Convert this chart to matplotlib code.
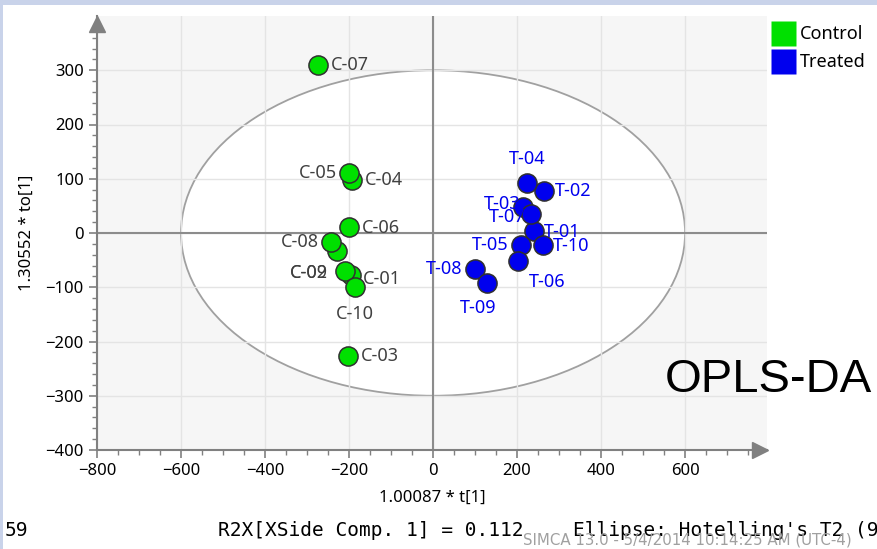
import matplotlib
matplotlib.use("Agg")
import matplotlib.pyplot as plt
from matplotlib.patches import Ellipse, Rectangle
from matplotlib.lines import Line2D

# ---- data ----
control_names = ["C-01", "C-02", "C-03", "C-04", "C-05", "C-06", "C-07", "C-08", "C-09", "C-10"]
control_t = [-196, -229, -202, -193, -200, -200, -274, -243, -210, -186]
control_to = [-78, -33, -226, 98, 111, 11, 309, -17, -70, -100]

treated_names = ["T-01", "T-02", "T-03", "T-04", "T-05", "T-06", "T-07", "T-08", "T-09", "T-10"]
treated_t = [240, 264, 214, 224, 209, 202, 233, 100, 128, 262]
treated_to = [4, 78, 48, 93, -22, -52, 35, -67, -93, -22]

legend_labels = ["Control", "Treated"]
x_label = "1.00087 * t[1]"
y_label = "1.30552 * to[1]"

# label offsets (points) and alignment, styling only
c_off = {"C-01": (9, -3, "left"), "C-02": (-6.5, -16, "right"), "C-03": (9, 0, "left"),
         "C-04": (9, 0, "left"), "C-05": (-9, 0, "right"), "C-06": (9, -1, "left"),
         "C-07": (9, 0, "left"), "C-08": (-9, 0, "right"), "C-09": (-12, -1.5, "right"),
         "C-10": (0, -19, "center")}
t_off = {"T-01": (7, -1, "left"), "T-02": (8, 0, "left"), "T-03": (-2, 2, "right"),
         "T-04": (0, 17, "center"), "T-05": (-9, 0, "right"), "T-06": (8, -15, "left"),
         "T-07": (-4, -2, "right"), "T-08": (-9, 0, "right"), "T-09": (-6, -18, "center"),
         "T-10": (7, -1, "left")}

GREEN = "#00e000"
BLUE = "#0000ee"

fig = plt.figure(figsize=(8.78, 5.49), dpi=100)
fig.patch.set_facecolor("white")
fig.patches.append(Rectangle((0, 1 - 5 / 549), 1, 5 / 549, transform=fig.transFigure,
                             facecolor="#c9d3ea", edgecolor="none", zorder=0))
fig.patches.append(Rectangle((0, 0), 3 / 878, 1, transform=fig.transFigure,
                             facecolor="#c9d3ea", edgecolor="none", zorder=0))

ax = fig.add_axes([97 / 878, 1 - 450 / 549, (767 - 97) / 878, (450 - 16) / 549])
ax.set_facecolor("#f6f6f6")
ax.set_xlim(-800, 795)
ax.set_ylim(-400, 400)

ax.set_xticks(range(-800, 601, 200))
ax.set_xticks(range(-800, 751, 50), minor=True)
ax.set_yticks(range(-400, 301, 100))
ax.set_yticks(range(-400, 381, 20), minor=True)
ax.grid(True, which="major", color="#e4e4e4", lw=1, zorder=0)

for s in ["top", "right"]:
    ax.spines[s].set_visible(False)
for s in ["left", "bottom"]:
    ax.spines[s].set_color("#808080")
    ax.spines[s].set_linewidth(1.5)
ax.tick_params(which="both", colors="#808080", labelcolor="black")
ax.tick_params(which="major", length=6, width=1.2)
ax.tick_params(which="minor", length=3.5, width=1)
ax.tick_params(axis="y", labelsize=12, labelfontfamily="Noto Sans")
ax.tick_params(axis="x", labelsize=12, labelfontfamily="Noto Sans")

# arrows at axis ends
ax.plot([0], [1.0 - 8 / 434], marker="^", markersize=11, color="#808080", transform=ax.transAxes,
        clip_on=False, zorder=5)
ax.plot([1.0 - 7 / 670], [0], marker=">", markersize=11, color="#808080", transform=ax.transAxes,
        clip_on=False, zorder=5)

ell = Ellipse((0, 0), 1200, 600, facecolor="white", edgecolor="#a0a0a0", lw=1.3, zorder=1)
ax.add_patch(ell)
ax.axhline(0, color="#8c8c8c", lw=1.5, zorder=2)
ax.axvline(0, color="#8c8c8c", lw=1.5, zorder=2)

ax.scatter(control_t, control_to, s=190, c=GREEN, edgecolors="#303030", linewidths=1.1, zorder=4)
ax.scatter(treated_t, treated_to, s=190, c=BLUE, edgecolors="#303030", linewidths=1.1, zorder=4)

for n, x, y in zip(control_names, control_t, control_to):
    dx, dy, ha = c_off[n]
    ax.annotate(n, (x, y), xytext=(dx, dy), textcoords="offset points", ha=ha, va="center",
                fontsize=13, color="#404040", fontfamily="Noto Sans", zorder=6)
for n, x, y in zip(treated_names, treated_t, treated_to):
    dx, dy, ha = t_off[n]
    ax.annotate(n, (x, y), xytext=(dx, dy), textcoords="offset points", ha=ha, va="center",
                fontsize=13, color=BLUE, fontfamily="Noto Sans", zorder=6)

ax.set_xlabel(x_label, fontsize=12, fontfamily="Noto Sans", labelpad=8)
ax.set_ylabel(y_label, fontsize=12, fontfamily="Noto Sans", labelpad=8)

handles = [Line2D([], [], marker="s", linestyle="none", markersize=18, markerfacecolor=GREEN,
                  markeredgecolor="none"),
           Line2D([], [], marker="s", linestyle="none", markersize=18, markerfacecolor=BLUE,
                  markeredgecolor="none")]
fig.legend(handles, legend_labels, loc="upper left", bbox_to_anchor=(760 / 878, 1 - 16 / 549),
           frameon=False, handletextpad=0.1, labelspacing=0.55, borderpad=0,
           prop={"family": "Noto Sans", "size": 13}, handlelength=1.6)

fig.text(665 / 878, 1 - 380 / 549, "OPLS-DA", fontsize=34, fontfamily="Liberation Sans",
         va="center", ha="left", color="black")

fig.text(5 / 878, 1 - 530 / 549, "59", fontsize=14, fontfamily="DejaVu Sans Mono", va="center")
fig.text(218 / 878, 1 - 530 / 549, "R2X[XSide Comp. 1] = 0.112", fontsize=14,
         fontfamily="DejaVu Sans Mono", va="center")
fig.text(573 / 878, 1 - 530 / 549, "Ellipse: Hotelling's T2 (95%)", fontsize=14,
         fontfamily="DejaVu Sans Mono", va="center")
fig.text(523 / 878, 1 - 540 / 549, "SIMCA 13.0 - 5/4/2014 10:14:25 AM (UTC-4)", fontsize=10.8,
         fontfamily="DejaVu Sans", color="#a0a0a0", va="center")

fig.savefig("out.png", dpi=100)
